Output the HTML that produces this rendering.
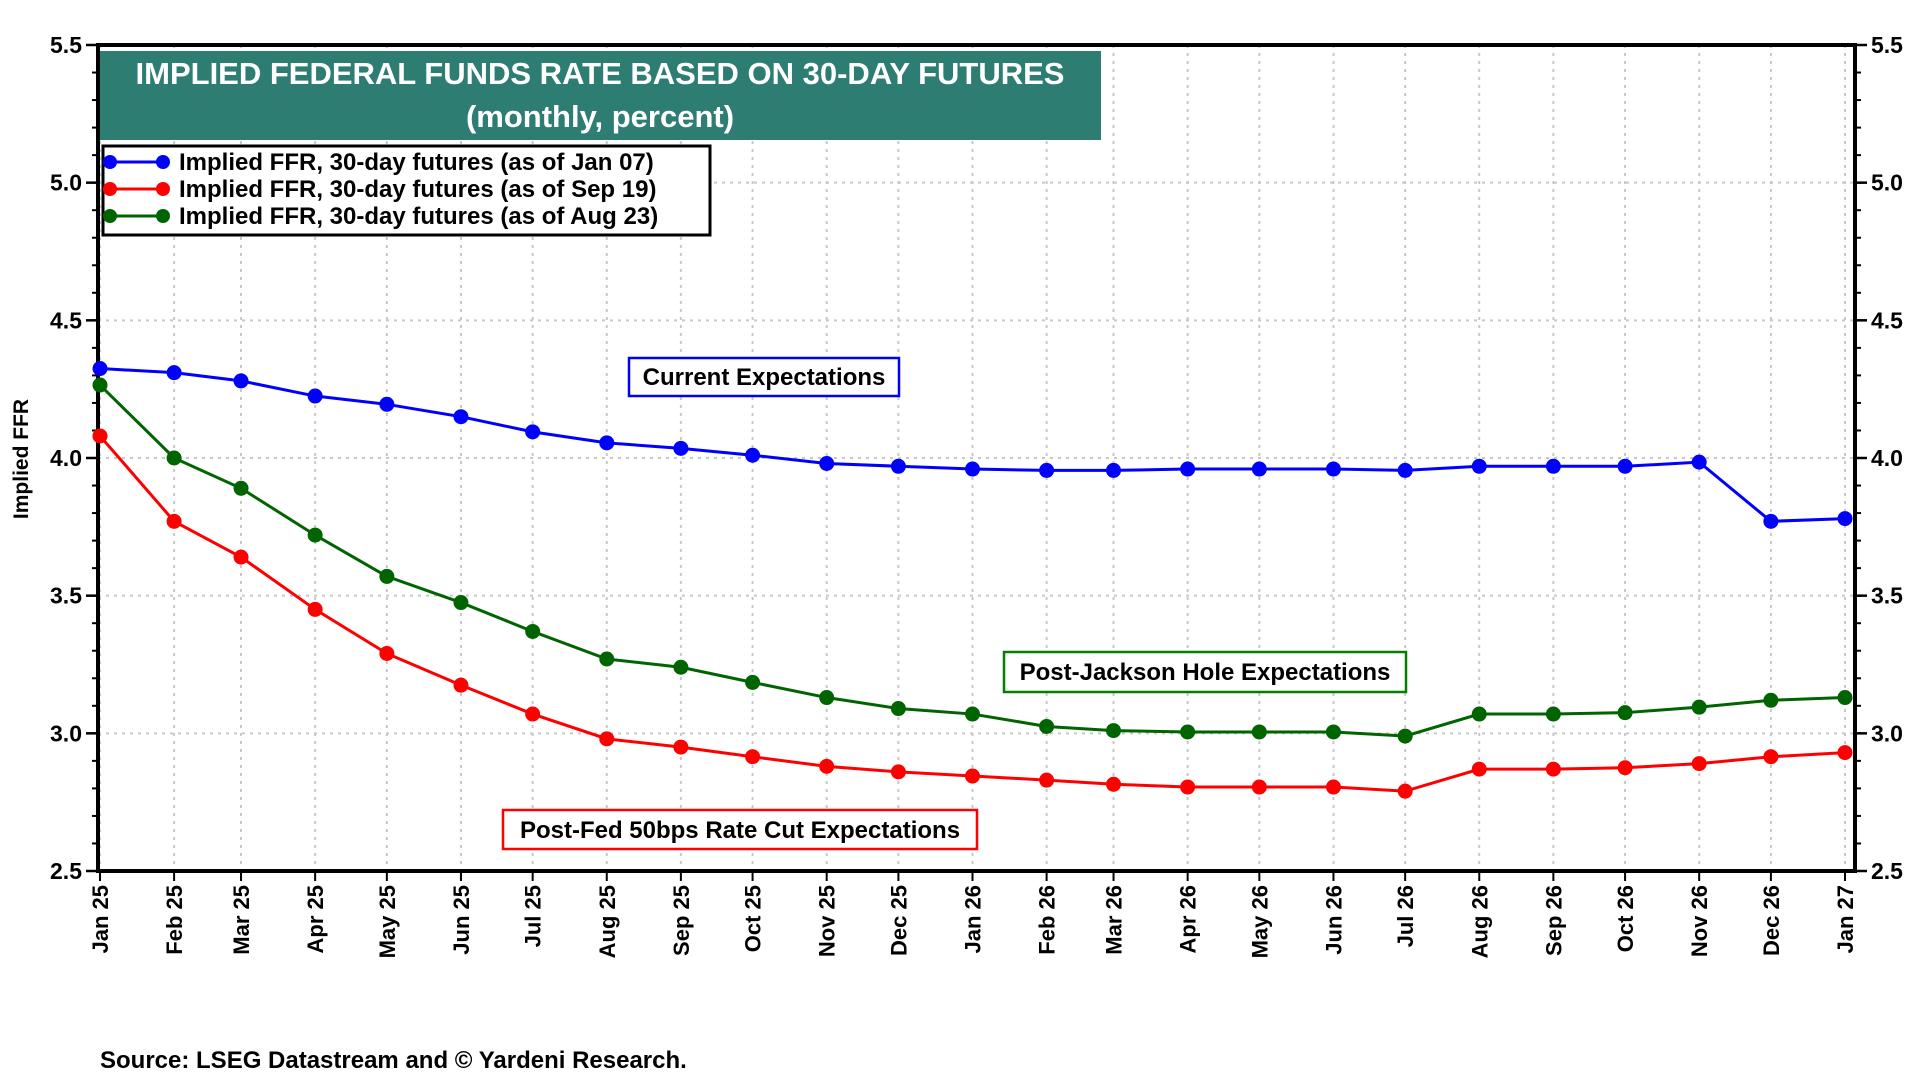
<!DOCTYPE html>
<html><head><meta charset="utf-8"><style>
body{margin:0;background:#fff}
svg{display:block;font-family:"Liberation Sans",Arial,sans-serif;font-weight:bold}
</style></head><body>
<svg id="chart" width="1920" height="1080" viewBox="0 0 1920 1080">
<g id="grid"></g>
<g id="axes"></g>
<g id="series"></g>
<g>
<rect x="100" y="51" width="1001" height="89" fill="#2e7d73"/>
<text x="600" y="84" text-anchor="middle" font-size="31" fill="#fff">IMPLIED FEDERAL FUNDS RATE BASED ON 30-DAY FUTURES</text>
<text x="600" y="127" text-anchor="middle" font-size="31" fill="#fff">(monthly, percent)</text>
</g>
<g>
<rect x="103" y="146" width="607" height="89" fill="#fff" stroke="#000" stroke-width="3"/>
<g><line x1="110" y1="162" x2="163" y2="162" stroke="#0000ff" stroke-width="3"/><circle cx="110" cy="162" r="7" fill="#0000ff"/><circle cx="163" cy="162" r="7" fill="#0000ff"/><text x="179" y="170" font-size="24">Implied FFR, 30-day futures (as of Jan 07)</text></g>
<g><line x1="110" y1="189" x2="163" y2="189" stroke="#ff0000" stroke-width="3"/><circle cx="110" cy="189" r="7" fill="#ff0000"/><circle cx="163" cy="189" r="7" fill="#ff0000"/><text x="179" y="197" font-size="24">Implied FFR, 30-day futures (as of Sep 19)</text></g>
<g><line x1="110" y1="216" x2="163" y2="216" stroke="#006400" stroke-width="3"/><circle cx="110" cy="216" r="7" fill="#006400"/><circle cx="163" cy="216" r="7" fill="#006400"/><text x="179" y="224" font-size="24">Implied FFR, 30-day futures (as of Aug 23)</text></g>
</g>
<g><rect x="629" y="358" width="270" height="38" fill="#fff" stroke="#0000ff" stroke-width="2.5"/><text x="764" y="385" text-anchor="middle" font-size="24">Current Expectations</text></g>
<g><rect x="1004" y="652" width="402" height="40" fill="#fff" stroke="#008000" stroke-width="2.5"/><text x="1205" y="680" text-anchor="middle" font-size="24">Post-Jackson Hole Expectations</text></g>
<g><rect x="503" y="810" width="474" height="39" fill="#fff" stroke="#ff0000" stroke-width="2.5"/><text x="740" y="838" text-anchor="middle" font-size="24">Post-Fed 50bps Rate Cut Expectations</text></g>
<text x="28" y="459" transform="rotate(-90 28 459)" text-anchor="middle" font-size="21">Implied FFR</text>
<text x="100" y="1068" font-size="24">Source: LSEG Datastream and © Yardeni Research.</text>
</svg>
<script>
const months = ["Jan 25","Feb 25","Mar 25","Apr 25","May 25","Jun 25","Jul 25","Aug 25","Sep 25","Oct 25","Nov 25","Dec 25","Jan 26","Feb 26","Mar 26","Apr 26","May 26","Jun 26","Jul 26","Aug 26","Sep 26","Oct 26","Nov 26","Dec 26","Jan 27"];
const yTicks = [2.5,3.0,3.5,4.0,4.5,5.0,5.5];
const seriesJan07 = [4.325,4.31,4.28,4.225,4.195,4.15,4.095,4.055,4.035,4.01,3.98,3.97,3.96,3.955,3.955,3.96,3.96,3.96,3.955,3.97,3.97,3.97,3.985,3.77,3.78];
const seriesSep19 = [4.08,3.77,3.64,3.45,3.29,3.175,3.07,2.98,2.95,2.915,2.88,2.86,2.845,2.83,2.815,2.805,2.805,2.805,2.79,2.87,2.87,2.875,2.89,2.915,2.93];
const seriesAug23 = [4.265,4.0,3.89,3.72,3.57,3.475,3.37,3.27,3.24,3.185,3.13,3.09,3.07,3.025,3.01,3.005,3.005,3.005,2.99,3.07,3.07,3.075,3.095,3.12,3.13];
const NS='http://www.w3.org/2000/svg';
const L=98,R=1855,T=45,B=871,X0=100,X1=1845,YMIN=2.5,YMAX=5.5;
const mDate=s=>{const names=["Jan","Feb","Mar","Apr","May","Jun","Jul","Aug","Sep","Oct","Nov","Dec"];const p=s.split(" ");return Date.UTC(2000+ +p[1],names.indexOf(p[0]),1);};
const d0=mDate(months[0]),d1=mDate(months[months.length-1]);
const xs=i=>X0+(mDate(months[i])-d0)/(d1-d0)*(X1-X0);
const ys=v=>B-(v-YMIN)/(YMAX-YMIN)*(B-T);
function mk(tag,attrs,parent){const e=document.createElementNS(NS,tag);for(const k in attrs)e.setAttribute(k,attrs[k]);parent.appendChild(e);return e;}
const grid=document.getElementById('grid'),axes=document.getElementById('axes'),ser=document.getElementById('series');
months.forEach((m,i)=>{const x=xs(i);
 const g=mk('line',{x1:x,y1:T,x2:x,y2:B,stroke:'#c8c8c8','stroke-width':2,'stroke-dasharray':'3 5'},grid);
 
 
 const t=mk('line',{x1:x,y1:B,x2:x,y2:B+10,stroke:'#000','stroke-width':2},axes);
 
 
 const lb=mk('text',{x:x+8,y:B+14,transform:`rotate(-90 ${x+8} ${B+14})`,'text-anchor':'end','font-size':22},axes);
 lb.textContent=m;
 
 
});
for(let v=2.5;v<=5.5001;v+=0.1){const y=ys(v);
 mk('line',{x1:L-6,y1:y,x2:L,y2:y,stroke:'#000','stroke-width':2},axes);
 mk('line',{x1:R,y1:y,x2:R+6,y2:y,stroke:'#000','stroke-width':2},axes);}
yTicks.forEach(v=>{const y=ys(v);
 if(v>YMIN&&v<YMAX){const g=mk('line',{x1:L,y1:y,x2:R,y2:y,stroke:'#c8c8c8','stroke-width':2,'stroke-dasharray':'3 5'},grid);
 
 }
 mk('line',{x1:L-12,y1:y,x2:L,y2:y,stroke:'#000','stroke-width':2.5},axes);
 mk('line',{x1:R,y1:y,x2:R+12,y2:y,stroke:'#000','stroke-width':2.5},axes);
 const a=mk('text',{x:L-16,y:y+8,'text-anchor':'end','font-size':23},axes);a.textContent=v.toFixed(1);
 
 
 const b=mk('text',{x:R+16,y:y+8,'font-size':23},axes);b.textContent=v.toFixed(1);
 
 
});
mk('line',{x1:L,y1:T,x2:R,y2:T,stroke:'#000','stroke-width':4},axes);
mk('line',{x1:L,y1:B,x2:R,y2:B,stroke:'#000','stroke-width':4},axes);
mk('line',{x1:L,y1:T-2,x2:L,y2:B+2,stroke:'#000','stroke-width':4},axes);
mk('line',{x1:R,y1:T-2,x2:R,y2:B+2,stroke:'#000','stroke-width':4},axes);
function draw(data,color,name){
 const g=mk('g',{},ser);
 
 
 const pl=mk('polyline',{points:data.map((v,i)=>xs(i)+','+ys(v)).join(' '),fill:'none',stroke:color,'stroke-width':3},g);
 
 
 data.forEach((v,i)=>{const c=mk('circle',{cx:xs(i),cy:ys(v),r:7.5,fill:color},g);
  
  });
}
draw(seriesAug23,'#006400','series-aug23');
draw(seriesSep19,'#ff0000','series-sep19');
draw(seriesJan07,'#0000ff','series-jan07');
</script>
</body></html>
